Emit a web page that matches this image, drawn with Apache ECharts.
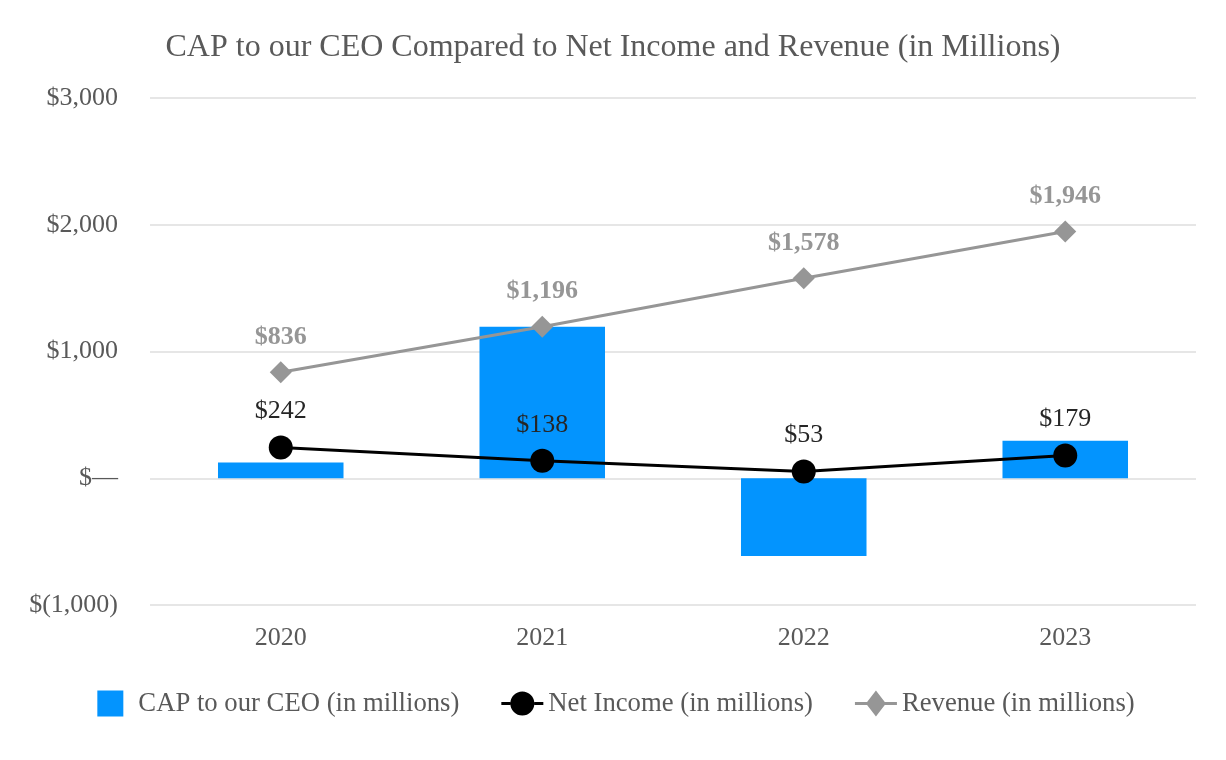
<!DOCTYPE html>
<html>
<head>
<meta charset="utf-8">
<script src="https://cdn.jsdelivr.net/npm/echarts@6/dist/echarts.min.js"></script>
<style>html,body{margin:0;padding:0;background:#fff;}#c{width:1226px;height:760px;}</style>
</head>
<body>
<div id="c"></div>
<script>
const categories = ['2020', '2021', '2022', '2023'];
const capValues = [124, 1195, -614, 296];
const netIncomeValues = [242, 138, 53, 179];
const revenueValues = [836, 1196, 1578, 1946];
const yTicks = [-1000, 0, 1000, 2000, 3000];

function fmtMoney(v) {
  if (v === 0) return '$\u2014';
  const s = Math.abs(v).toLocaleString('en-US');
  return v < 0 ? '$(' + s + ')' : '$' + s;
}

const FONT = '"Liberation Serif", "Times New Roman", serif';
const ICON_RECT = 'path://M0,0 M42,26 M6,0 h26 v26 h-26 z';
const ICON_CIRCLE = 'path://M0,0 M42,26 M0,11.5 h9 v3 h-9 z M33,11.5 h9 v3 h-9 z M9,13 a12,12 0 1,1 24,0 a12,12 0 1,1 -24,0 z';
const ICON_DIAMOND = 'path://M0,0 M42,26 M0,11.5 h12 v3 h-12 z M30,11.5 h12 v3 h-12 z M21,0 L31,13 L21,26 L11,13 z';

const chart = echarts.init(document.getElementById('c'));
chart.setOption({
  backgroundColor: '#fff',
  animation: false,
  textStyle: { fontFamily: FONT },
  title: {
    text: 'CAP to our CEO Compared to Net Income and Revenue (in Millions)',
    left: 'center', top: 27,
    textStyle: { fontFamily: FONT, fontSize: 32, fontWeight: 'normal', color: '#595959' }
  },
  legend: {
    top: 685, left: 'center',
    itemGap: 42,
    itemWidth: 42, itemHeight: 26,
    textStyle: { fontFamily: FONT, fontSize: 26.7, color: '#595959' },
    data: [
      { name: 'CAP to our CEO (in millions)', icon: ICON_RECT, itemStyle: { color: '#0394fe', borderWidth: 0 } },
      { name: 'Net Income (in millions)', icon: ICON_CIRCLE, itemStyle: { color: '#000', borderWidth: 0 } },
      { name: 'Revenue (in millions)', icon: ICON_DIAMOND, itemStyle: { color: '#969696', borderWidth: 0 } }
    ]
  },
  grid: { left: 150, right: 30, top: 98, bottom: 155 },
  xAxis: {
    type: 'category',
    data: categories,
    axisLine: { show: false },
    axisTick: { show: false },
    axisLabel: { fontFamily: FONT, fontSize: 26, color: '#595959', margin: 20 }
  },
  yAxis: {
    type: 'value',
    min: -1000, max: 3000, interval: 1000,
    axisLine: { show: false },
    axisTick: { show: false },
    splitLine: { lineStyle: { color: '#e6e6e6', width: 2 } },
    axisLabel: {
      fontFamily: FONT, fontSize: 26, color: '#595959', margin: 32,
      formatter: v => yTicks.includes(v) ? fmtMoney(v) : ''
    }
  },
  series: [
    {
      name: 'CAP to our CEO (in millions)',
      type: 'bar',
      data: capValues,
      barWidth: '48%',
      itemStyle: { color: '#0394fe' }
    },
    {
      name: 'Net Income (in millions)',
      type: 'line',
      data: netIncomeValues,
      symbol: 'circle', symbolSize: 24,
      lineStyle: { color: '#000', width: 3 },
      itemStyle: { color: '#000' },
      label: {
        show: true, position: 'top', distance: 11,
        fontFamily: FONT, fontSize: 26, color: '#262626',
        formatter: p => fmtMoney(p.value)
      }
    },
    {
      name: 'Revenue (in millions)',
      type: 'line',
      data: revenueValues,
      symbol: 'diamond', symbolSize: 22,
      lineStyle: { color: '#969696', width: 3 },
      itemStyle: { color: '#969696' },
      label: {
        show: true, position: 'top', distance: 11,
        fontFamily: FONT, fontSize: 26, fontWeight: 'bold', color: '#969696',
        formatter: p => fmtMoney(p.value)
      }
    }
  ]
});
</script>
</body>
</html>
